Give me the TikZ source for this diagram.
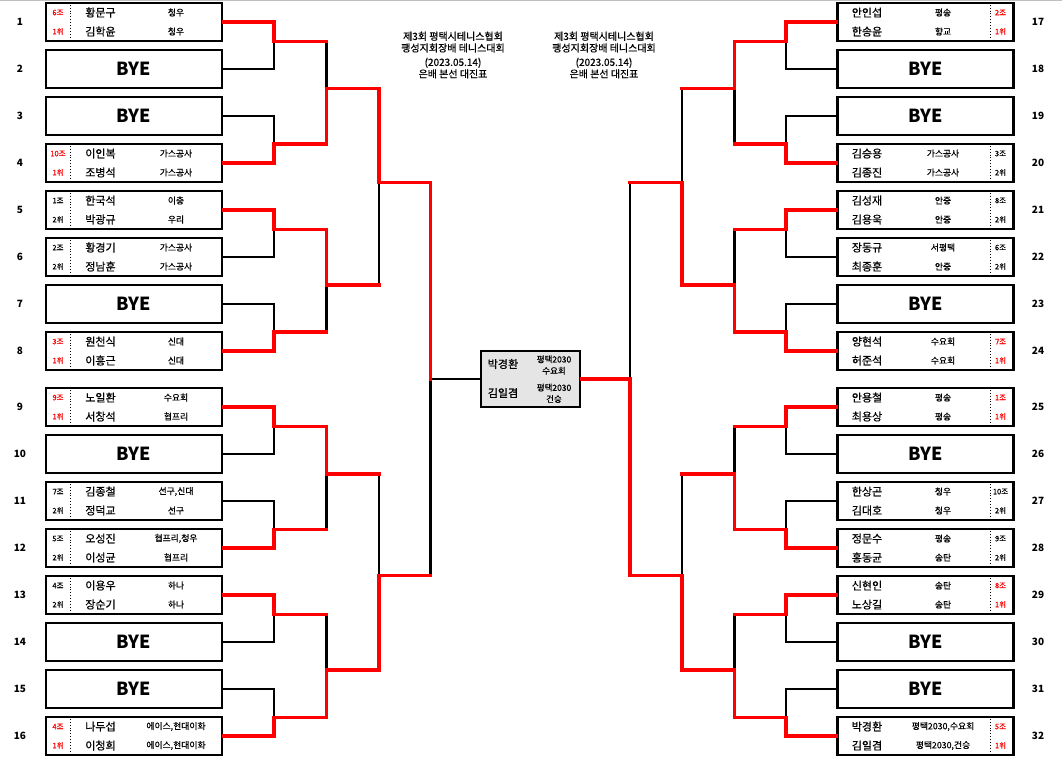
\documentclass[tikz,border=0pt]{standalone}
\usepackage{fontspec}
\setmainfont{Noto Sans CJK KR}
\newfontfamily\krmid{Noto Sans CJK KR}[FakeBold=0.7]
\begin{document}
\begin{tikzpicture}[x=1pt, y=-1pt, every node/.style={inner sep=0pt},
  pbox/.style={draw, line width=2.2pt, minimum width=176pt, minimum height=38pt},
  bye/.style={font=\fontsize{18}{20}\selectfont\bfseries},
  num/.style={font=\fontsize{10}{12}\selectfont\bfseries},
  nm/.style={font=\krmid\fontsize{11}{13}\selectfont},
  club/.style={font=\krmid\fontsize{8.8}{10}\selectfont},
  grp/.style={font=\krmid\fontsize{7.5}{9}\selectfont},
  head/.style={align=center, font=\krmid\fontsize{10}{11.7}\selectfont},
  dotsep/.style={dotted, line width=0.9pt},
  win/.style={red, line width=3.2pt, line cap=rect},
  lose/.style={black, line width=2.2pt, line cap=rect}]
  \useasboundingbox (0,0) rectangle (1062,757);
  \draw[gray!50] (0,0.5) -- (1062,0.5);

  % titles
  \node[head] (t1) at (453,55) {제3회 평택시테니스협회\\팽성지회장배 테니스대회\\[2.5pt](2023.05.14)\\은배 본선 대진표};
  \node[head] (t2) at (604,55) {제3회 평택시테니스협회\\팽성지회장배 테니스대회\\[2.5pt](2023.05.14)\\은배 본선 대진표};

  % row numbers
  \foreach \i/\y in {1/22,2/69,3/116,4/163,5/210,6/257,7/304,8/351,
    9/407,10/454,11/501,12/548,13/595,14/642,15/689,16/736}
    \node[num] (k\i) at (20,\y) {\i};
  \foreach \i/\y in {17/22,18/69,19/116,20/163,21/210,22/257,23/304,24/351,
    25/407,26/454,27/501,28/548,29/595,30/642,31/689,32/736}
    \node[num] (k\i) at (1038,\y) {\i};

  % byes
  \foreach \i/\y in {2/69,3/116,7/304,10/454,14/642,15/689}
    \node[pbox,bye] (b\i) at (134,\y) {BYE};
  \foreach \i/\y in {18/69,19/116,23/304,26/454,30/642,31/689}
    \node[pbox,bye] (b\i) at (925.5,\y) {BYE};

  % players, left
  \foreach \i/\y/\gr/\rk/\na/\ca/\nb/\cb/\cl in {
    1/22/6조/1위/황문구/청우/김학윤/청우/red,
    4/163/10조/1위/이인복/가스공사/조병석/가스공사/red,
    5/210/1조/2위/한국석/이충/박광규/우리/black,
    6/257/2조/2위/황경기/가스공사/정남훈/가스공사/black,
    8/351/3조/1위/원천식/신대/이흥근/신대/red,
    9/407/9조/1위/노일환/수요회/서창석/협프리/red,
    11/501/7조/2위/김종철/{선구,신대}/정덕교/선구/black,
    12/548/5조/2위/오성진/{협프리,청우}/이성균/협프리/black,
    13/595/4조/2위/이용우/하나/장순기/하나/black,
    16/736/4조/1위/나두섭/{에이스,현대이화}/이청희/{에이스,현대이화}/red} {
    \node[pbox] (b\i) at (134,\y) {};
    \draw[dotsep] ([xshift=25.3pt]b\i.north west) -- ([xshift=25.3pt]b\i.south west);
    \node[grp,text=\cl] (g\i) at (58,\y-9.5) {\gr};
    \node[grp,text=\cl] (r\i) at (58,\y+9.5) {\rk};
    \node[nm] (na\i) at (100.5,\y-9.5) {\na};
    \node[nm] (nb\i) at (100.5,\y+9.5) {\nb};
    \node[club] (ca\i) at (176,\y-9.5) {\ca};
    \node[club] (cb\i) at (176,\y+9.5) {\cb};
  }

  % players, right
  \foreach \i/\y/\gr/\rk/\na/\ca/\nb/\cb/\cl in {
    17/22/2조/1위/안인섭/평송/한송윤/향교/red,
    20/163/3조/2위/김승용/가스공사/김종진/가스공사/black,
    21/210/8조/2위/김성재/안중/김용욱/안중/black,
    22/257/6조/2위/장동규/서평택/최종훈/안중/black,
    24/351/7조/1위/양현석/수요회/허준석/수요회/red,
    25/407/1조/1위/안용철/평송/최용상/평송/red,
    27/501/10조/2위/한상곤/청우/김대호/청우/black,
    28/548/9조/2위/정문수/평송/홍동균/송탄/black,
    29/595/8조/1위/신현인/송탄/노상길/송탄/red,
    32/736/5조/1위/박경환/{평택2030,수요회}/김일겸/{평택2030,건승}/red} {
    \node[pbox] (b\i) at (925.5,\y) {};
    \draw[dotsep] ([xshift=-24.5pt]b\i.north east) -- ([xshift=-24.5pt]b\i.south east);
    \node[grp,text=\cl] (g\i) at (1000.5,\y-9.5) {\gr};
    \node[grp,text=\cl] (r\i) at (1000.5,\y+9.5) {\rk};
    \node[nm] (na\i) at (867,\y-9.5) {\na};
    \node[nm] (nb\i) at (867,\y+9.5) {\nb};
    \node[club] (ca\i) at (943,\y-9.5) {\ca};
    \node[club] (cb\i) at (943,\y+9.5) {\cb};
  }

  % final
  \node[pbox, fill=gray!20, minimum width=99pt, minimum height=56pt] (fin) at (530.5,379) {};
  \node[nm] (fa) at (503,364) {박경환};
  \node[nm] (fb) at (503,393) {김일겸};
  \node[club, align=center, font=\krmid\fontsize{8.5}{11.4}\selectfont] (fca) at (554,365) {평택2030\\수요회};
  \node[club, align=center, font=\krmid\fontsize{8.5}{11.4}\selectfont] (fcb) at (554,393.3) {평택2030\\건승};

  % junctions
  \foreach \n/\y in {a/41.5,b/144,c/229.5,d/332,e/426.5,f/529.5,g/614.5,h/717.5} {
    \coordinate (l1\n) at (274,\y);
    \coordinate (r1\n) at (786,\y);
  }
  \foreach \n/\y in {a/88.5,b/285,c/474,d/670} {
    \coordinate (l2\n) at (326.5,\y);
    \coordinate (r2\n) at (734.5,\y);
  }
  \coordinate (l3a) at (379,182.5);
  \coordinate (l3b) at (379,575.5);
  \coordinate (r3a) at (682,182.5);
  \coordinate (r3b) at (682,575.5);
  \coordinate (l4) at (430.5,379);
  \coordinate (r4) at (630,379);

  % losing lines
  \foreach \f/\t in {b2/l1a,b3/l1b,b6/l1c,b7/l1d,b10/l1e,b11/l1f,b14/l1g,b15/l1h}
    \draw[lose] (\f.east) -| (\t);
  \foreach \f/\t in {b18/r1a,b19/r1b,b22/r1c,b23/r1d,b26/r1e,b27/r1f,b30/r1g,b31/r1h}
    \draw[lose] (\f.west) -| (\t);
  \foreach \f/\t in {l1a/l2a,l1d/l2b,l1f/l2c,l1g/l2d,l2b/l3a,l2c/l3b,l3b/l4,
    r1b/r2a,r1c/r2b,r1e/r2c,r1g/r2d,r2a/r3a,r2c/r3b,r3a/r4}
    \draw[lose] (\f -| \t) -- (\t);
  \draw[lose] (l4) -- (fin.west);

  % winning lines
  \foreach \f/\t in {b1/l1a,b4/l1b,b5/l1c,b8/l1d,b9/l1e,b12/l1f,b13/l1g,b16/l1h}
    \draw[win] (\f.east) -| (\t);
  \foreach \f/\t in {b17/r1a,b20/r1b,b21/r1c,b24/r1d,b25/r1e,b28/r1f,b29/r1g,b32/r1h}
    \draw[win] (\f.west) -| (\t);
  \foreach \f/\t in {l1a/l2a,l1b/l2a,l1c/l2b,l1d/l2b,l1e/l2c,l1f/l2c,l1g/l2d,l1h/l2d,
    l2a/l3a,l2b/l3a,l2c/l3b,l2d/l3b,l3a/l4,l3b/l4,
    r1a/r2a,r1b/r2a,r1c/r2b,r1d/r2b,r1e/r2c,r1f/r2c,r1g/r2d,r1h/r2d,
    r2a/r3a,r2b/r3a,r2c/r3b,r2d/r3b,r3a/r4,r3b/r4}
    \draw[win] (\f) -- (\f -| \t);
  \foreach \f/\t in {l1b/l2a,l1c/l2b,l1e/l2c,l1h/l2d,l2a/l3a,l2d/l3b,l3a/l4,
    r1a/r2a,r1d/r2b,r1f/r2c,r1h/r2d,r2b/r3a,r2d/r3b,r3b/r4}
    \draw[win] (\f -| \t) -- (\t);
  \draw[win] (r4) -- (fin.east);
\end{tikzpicture}
\end{document}
